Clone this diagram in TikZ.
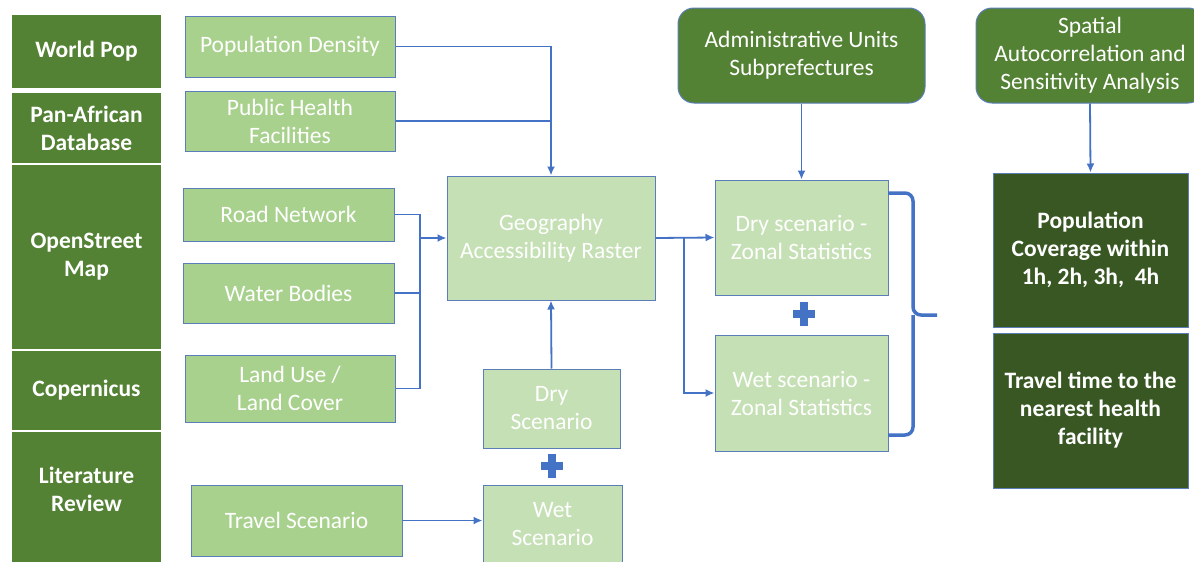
\documentclass[tikz,border=0pt]{standalone}
\usepackage{fontspec}
\setmainfont{Carlito}
\usetikzlibrary{arrows.meta}
\definecolor{srcgreen}{HTML}{548235}
\definecolor{outgreen}{HTML}{385723}
\definecolor{datagreen}{HTML}{A9D18E}
\definecolor{procgreen}{HTML}{C5E0B4}
\definecolor{edgeblue}{HTML}{5B7DB8}
\definecolor{linkblue}{HTML}{4472C4}
\tikzset{srcbox/.style = {rectangle, fill=srcgreen, text=white, align=center, inner sep=0pt,
                          minimum width=149pt, font=\bfseries\fontsize{23.5}{28}\selectfont}}
\tikzset{databox/.style = {rectangle, draw=edgeblue, line width=1pt, fill=datagreen, text=white,
                           align=center, inner sep=0pt, font=\fontsize{23.5}{28}\selectfont}}
\tikzset{procbox/.style = {databox, fill=procgreen}}
\tikzset{topbox/.style = {databox, fill=srcgreen, rounded corners=16pt}}
\tikzset{outbox/.style = {databox, fill=outgreen, font=\bfseries\fontsize{23.5}{28}\selectfont}}
\tikzset{link/.style = {draw=linkblue, line width=1.8pt}}
\tikzset{arr/.style = {link, -{Latex[length=9pt,width=8pt]}}}
\tikzset{bracepath/.style = {draw=linkblue, line width=3.5pt, rounded corners=8pt}}
\tikzset{plussign/.style = {draw=linkblue, line width=7.5pt}}

\begin{document}
\begin{tikzpicture}[x=1pt,y=-1pt]
                    \clip (0,0) rectangle (1194,562);
                    \fill[white] (0,0) rectangle (1194,562);

                    \node[srcbox, minimum height=73pt] (worldpop) at (86.5,51.5) {World Pop};
                    \node[srcbox, minimum height=70pt] (panafrican) at (86.5,128) {Pan-African\\Database};
                    \node[srcbox, minimum height=184pt] (osm) at (86.5,257) {OpenStreet\\Map};
                    \node[srcbox, minimum height=79pt] (copernicus) at (86.5,390.5) {Copernicus};
                    \node[srcbox, minimum height=130pt, text depth=16pt] (litreview) at (86.5,497) {Literature\\Review};

                    \node[databox, minimum width=210pt, minimum height=61pt] (popdens) at (290,46.5) {Population Density};
                    \node[databox, minimum width=210pt, minimum height=60pt] (pubhealth) at (290,121) {Public Health\\Facilities};
                    \node[databox, minimum width=211pt, minimum height=53pt] (road) at (288.5,214.5) {Road Network};
                    \node[databox, minimum width=211pt, minimum height=60pt] (water) at (288.5,293) {Water Bodies};
                    \node[databox, minimum width=210pt, minimum height=67pt] (landuse) at (290,388.5) {Land Use /\\Land Cover};
                    \node[databox, minimum width=211pt, minimum height=71pt] (travel) at (296.5,520.5) {Travel Scenario};

                    \node[procbox, minimum width=208pt, minimum height=124pt] (geo) at (551,238) {Geography\\Accessibility Raster};
                    \node[procbox, minimum width=137pt, minimum height=79pt] (dryin) at (551.5,408.5) {Dry\\Scenario};
                    \node[procbox, minimum width=139pt, minimum height=78pt] (wetin) at (552.5,524) {Wet\\Scenario};
                    \node[procbox, minimum width=173pt, minimum height=115pt] (dryzonal) at (801.5,237.5) {Dry scenario -\\Zonal Statistics};
                    \node[procbox, minimum width=173pt, minimum height=116pt] (wetzonal) at (801.5,393) {Wet scenario -\\Zonal Statistics};

                    \node[topbox, minimum width=247pt, minimum height=95pt] (admin) at (801.5,55.5) {Administrative Units\\Subprefectures};
                    \node[topbox, minimum width=228pt, minimum height=95pt] (spatial) at (1090,55.5) {Spatial\\Autocorrelation and\\Sensitivity Analysis};

                    \node[outbox, minimum width=195pt, minimum height=154pt] (popcov) at (1090.5,250) {Population\\Coverage within\\1h, 2h, 3h,~ 4h};
                    \node[outbox, minimum width=195pt, minimum height=155pt] (traveltime) at (1090.5,410.5) {Travel time to the\\nearest health\\facility};

                    \coordinate (jleft) at (420,238);
                    \coordinate (jright) at (684,237.5);
                    \coordinate (btip) at (937,315);
                    \coordinate (bmid) at (913,315);
                    \coordinate (plusa) at (804,314);
                    \coordinate (plusb) at (552,466);

                    \draw[arr] (popdens.east) -| (geo.north);
                    \draw[link] (pubhealth.east) -- (pubhealth.east -| geo.north);
                    \draw[link] (road.east) -| (jleft |- landuse.east) -- (landuse.east);
                    \draw[link] (water.east) -- (water.east -| jleft);
                    \draw[arr] (jleft) -- (geo.west);
                    \draw[arr] (geo.east) -- (dryzonal.west);
                    \draw[arr] (jright) |- (wetzonal.west);
                    \draw[arr] (dryin.north) -- (geo.south);
                    \draw[arr] (travel.east) -- (travel.east -| wetin.west);
                    \draw[arr] (admin.south) -- (dryzonal.north);
                    \draw[arr] (spatial.south) -- (popcov.north);

                    \draw[bracepath] (888,193) -- (913,193) -- (bmid) -- (btip)
                                     (bmid) -- (913,435) -- (888,435);

                    \draw[plussign] (plusa) ++(-11,0) -- ++(22,0) (plusa) ++(0,-12) -- ++(0,24);
                    \draw[plussign] (plusb) ++(-11,0) -- ++(22,0) (plusb) ++(0,-12) -- ++(0,24);
                \end{tikzpicture}
\end{document}
